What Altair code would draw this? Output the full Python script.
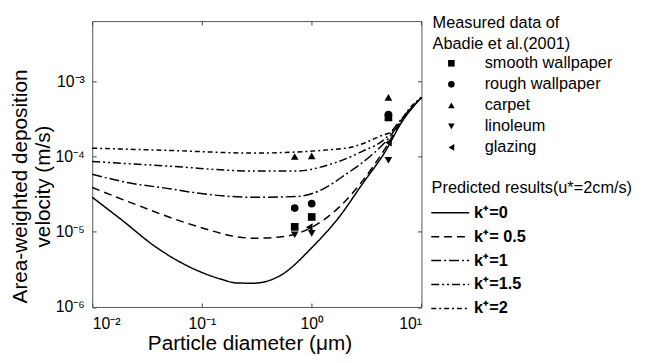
import math
import altair as alt
import pandas as pd

# ---------------- data ----------------
k_labels = ["k⁺=0", "k⁺= 0.5", "k⁺=1", "k⁺=1.5", "k⁺=2"]

d_k0 = [0.01, 0.0186, 0.0372, 0.0741, 0.148, 0.209, 0.296, 0.513, 1.03, 1.78, 2.89, 4.69, 6.62, 10]
v_k0 = [2.87e-5, 1.43e-5, 6.4e-6, 3.5e-6, 2.35e-6, 2.08e-6, 2.07e-6, 2.6e-6, 6.4e-6, 1.57e-5, 4.3e-5, 1.17e-4, 2.87e-4, 6.1e-4]

d_k05 = [0.01, 0.0263, 0.0741, 0.296, 0.513, 1.03, 1.78, 2.89, 4.69, 6.62, 10]
v_k05 = [3.87e-5, 2.23e-5, 1.29e-5, 8.2e-6, 8.5e-6, 1.17e-5, 2.12e-5, 4.7e-5, 1.29e-4, 3.0e-4, 6.1e-4]

d_k1 = [0.01, 0.0215, 0.0525, 0.0859, 0.296, 0.724, 1.175, 2.05, 3.56, 5.01, 6.62, 10]
v_k1 = [5.8e-5, 4.47e-5, 3.7e-5, 3.3e-5, 2.87e-5, 2.93e-5, 3.5e-5, 5.8e-5, 1.06e-4, 1.74e-4, 3.1e-4, 6.1e-4]

d_k15 = [0.01, 0.0525, 0.296, 0.724, 1.445, 2.89, 4.69, 6.62, 10]
v_k15 = [8.6e-5, 7.4e-5, 6.4e-5, 6.4e-5, 7.8e-5, 1.17e-4, 1.74e-4, 3.2e-4, 6.1e-4]

d_k2 = [0.01, 0.0525, 0.296, 2.05, 4.08, 5.77, 7.69, 10]
v_k2 = [1.29e-4, 1.2e-4, 1.11e-4, 1.29e-4, 1.83e-4, 2.34e-4, 4.27e-4, 6.1e-4]

surfaces = ["smooth wallpaper", "rough wallpaper", "carpet", "linoleum", "glazing"]
d_smooth = [0.7, 1.0, 5.0]
v_smooth = [1.16e-5, 1.57e-5, 3.3e-4]
d_rough = [0.7, 1.0, 5.0]
v_rough = [2.06e-5, 2.36e-5, 3.6e-4]
d_carpet = [0.7, 1.0, 5.0]
v_carpet = [1.0e-4, 1.02e-4, 6.1e-4]
d_lino = [0.7, 1.0, 5.0]
v_lino = [9.1e-6, 9.5e-6, 8.9e-5]
d_glaz = [0.95, 5.0]
v_glaz = [1.15e-5, 1.53e-4]

x_tick_vals = [0.01, 0.1, 1, 10]
x_tick_text = ["10⁻²", "10⁻¹", "10⁰", "10¹"]
y_tick_vals = [1e-6, 1e-5, 1e-4, 1e-3]
y_tick_text = ["10⁻⁶", "10⁻⁵", "10⁻⁴", "10⁻³"]

# ---------------- tables ----------------
rows = []
for lab, ds, vs in zip(k_labels, [d_k0, d_k05, d_k1, d_k15, d_k2], [v_k0, v_k05, v_k1, v_k15, v_k2]):
    for d, v in zip(ds, vs):
        rows.append({"d": d, "v": v, "k": lab})
curve_df = pd.DataFrame(rows)

prow = []
for lab, ds, vs in zip(surfaces, [d_smooth, d_rough, d_carpet, d_lino, d_glaz],
                       [v_smooth, v_rough, v_carpet, v_lino, v_glaz]):
    for d, v in zip(ds, vs):
        prow.append({"d": d, "v": v, "surface": lab})
pt_df = pd.DataFrame(prow)


def label_expr(vals, texts):
    expr = "''"
    for val, txt in zip(vals, texts):
        e = round(math.log10(val))
        expr = f"round(log(datum.value)/LN10) == {e} ? '{txt}' : ({expr})"
    return expr


FONT = "Liberation Sans"
xs = alt.Scale(type="log", domain=[0.01, 10], nice=False)
ys = alt.Scale(type="log", domain=[1e-6, 6.3e-3], nice=False)
dashes = [[1, 0], [8, 5], [10, 3, 2, 3], [8, 3, 2, 3, 2, 3], [5, 3, 2, 3]]
shapes = ["square", "circle", "triangle-up", "triangle-down", "triangle-left"]

lines = alt.Chart(curve_df).mark_line(color="black", strokeWidth=1.5, interpolate="monotone").encode(
    x=alt.X("d:Q", scale=xs, axis=alt.Axis(
        orient="bottom", values=x_tick_vals, labelExpr=label_expr(x_tick_vals, x_tick_text),
        tickSize=4, offset=-4, domain=False, grid=False, labelPadding=8.9,
        title="Particle diameter (μm)", titleFontSize=21, titleFontWeight="normal",
        titleX=159.2, titleY=47.2, titleBaseline="alphabetic", titleAlign="center")),
    y=alt.Y("v:Q", scale=ys, axis=alt.Axis(
        orient="left", values=y_tick_vals, labelExpr=label_expr(y_tick_vals, y_tick_text),
        tickSize=4, offset=-4, domain=False, grid=False, labelPadding=8,
        title=["Area-weighted deposition", "velocity (m/s)"], titleFontSize=21,
        titleFontWeight="normal", titleLineHeight=23, titleX=-70.3, titleY=167,
        titleAngle=270, titleAlign="center", titleBaseline="alphabetic")),
    strokeDash=alt.StrokeDash("k:N", scale=alt.Scale(domain=k_labels, range=dashes), legend=alt.Legend(
        orient="none", legendX=343.7, legendY=161.3, title="Predicted results(u*=2cm/s)",
        titleFontSize=16.5, titleFontWeight="normal", titlePadding=8, titleFont=FONT,
        labelFont=FONT, labelFontSize=16.5, labelFontWeight="bold", labelOffset=26.5,
        rowPadding=7.25, symbolType="M-2.14,0L7.44,0", symbolSize=64, symbolOffset=0,
        symbolStrokeColor="black", symbolStrokeWidth=1.5, padding=0)),
)

pts = alt.Chart(pt_df).mark_point(filled=True, color="black", opacity=1, size=60).encode(
    x=alt.X("d:Q", scale=xs, axis=alt.Axis(
        orient="top", values=x_tick_vals, labels=False, title=None, tickSize=4, offset=-4,
        domain=False, grid=False)),
    y=alt.Y("v:Q", scale=ys, axis=alt.Axis(
        orient="right", values=y_tick_vals, labels=False, title=None, tickSize=4, offset=-4,
        domain=False, grid=False)),
    shape=alt.Shape("surface:N", scale=alt.Scale(domain=surfaces, range=shapes), legend=alt.Legend(
        orient="none", legendX=344.7, legendY=-6, title=["Measured data of", "Abadie et al.(2001)"],
        titleFontSize=16.5, titleFontWeight="normal", titleLineHeight=21, titlePadding=3,
        titleFont=FONT, labelFont=FONT, labelFontSize=16.5, labelOffset=25.5, rowPadding=4.3,
        symbolSize=45, symbolOffset=10.75, symbolFillColor="black", symbolStrokeWidth=0,
        symbolOpacity=1, padding=0)),
)

chart = alt.layer(lines, pts).resolve_axis(x="independent", y="independent").properties(
    width=333.4, height=289.5,
    padding={"left": 85.3, "top": 11, "right": 219.3, "bottom": 54.5},
    autosize=alt.AutoSizeParams(type="none"),
).configure_view(stroke="#555", strokeWidth=1).configure_axis(
    labelFont=FONT, labelFontSize=16, labelColor="black", titleFont=FONT, titleColor="black",
    tickColor="#444", tickWidth=1,
).configure_legend(titleColor="black", labelColor="black", titleLimit=400, labelLimit=300)

chart.save("out.html", embed_options={"renderer": "svg", "actions": False})
